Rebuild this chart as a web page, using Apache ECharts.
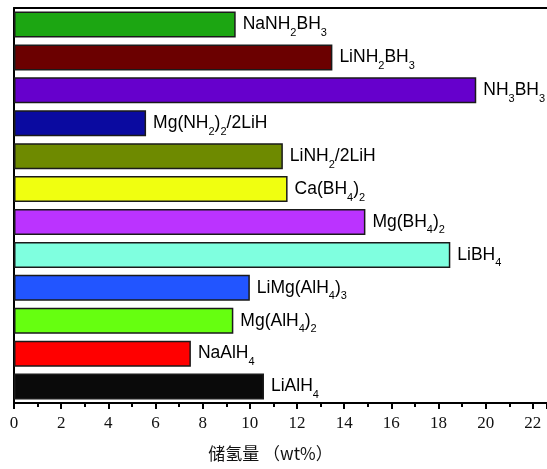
<!DOCTYPE html>
<html>
<head>
<meta charset="utf-8">
<script src="https://cdn.jsdelivr.net/npm/echarts@6/dist/echarts.min.js"></script>
<style>html,body{margin:0;padding:0;background:#fff;}#c{width:547px;height:469px;}</style>
</head>
<body>
<div id="c"></div>
<script>
// Categories from bottom to top
var categories = ["LiAlH4", "NaAlH4", "Mg(AlH4)2", "LiMg(AlH4)3", "LiBH4", "Mg(BH4)2", "Ca(BH4)2", "LiNH2/2LiH", "Mg(NH2)2/2LiH", "NH3BH3", "LiNH2BH3", "NaNH2BH3"];
var values = [10.6, 7.5, 9.3, 10.0, 18.5, 14.9, 11.6, 11.4, 5.6, 19.6, 13.5, 9.4];
var colors = ["#0a0a0a", "#ff0000", "#66ff10", "#2255ff", "#7fffdf", "#bb33ff", "#f0ff10", "#6e8a00", "#0a0aa0", "#6600cc", "#6b0000", "#1ca612"];
var xTicks = [0, 2, 4, 6, 8, 10, 12, 14, 16, 18, 20, 22];
var axisName = "储氢量 （wt%）";

function toRich(name) {
  var out = "";
  var buf = "";
  for (var i = 0; i < name.length; i++) {
    var ch = name[i];
    var prev = i > 0 ? name[i - 1] : "";
    if (/[0-9]/.test(ch) && /[A-Za-z\)]/.test(prev)) {
      if (buf) { out += "{m|" + buf + "}"; buf = ""; }
      out += "{s|" + ch + "}";
    } else {
      buf += ch;
    }
  }
  if (buf) out += "{m|" + buf + "}";
  return out;
}

var chart = echarts.init(document.getElementById('c'));
var data = values.map(function (v, i) {
  return { value: v, itemStyle: { color: colors[i] } };
});

chart.setOption({
  animation: false,
  backgroundColor: '#fff',
  grid: { left: 14, top: 8, right: 0, bottom: 66, containLabel: false },
  xAxis: [{
    type: 'value',
    min: 0,
    max: 22.6,
    interval: 2,
    position: 'bottom',
    axisLine: { show: true, lineStyle: { color: '#000', width: 2 } },
    axisTick: { show: true, inside: false, length: 6, lineStyle: { color: '#000', width: 2 } },
    minorTick: { show: true, splitNumber: 2, length: 4, lineStyle: { color: '#000', width: 2 } },
    splitLine: { show: false },
    axisLabel: {
      show: true, margin: 12, color: '#111',
      fontFamily: 'Liberation Serif', fontSize: 17,
      showMaxLabel: false,
      formatter: function (v) { return xTicks.indexOf(v) >= 0 ? String(v) : ''; }
    },
    name: axisName,
    nameLocation: 'middle',
    nameGap: 42,
    nameTextStyle: { fontFamily: 'Noto Sans CJK SC', fontSize: 17, color: '#111', padding: [0, 20, 0, 0] }
  }, {
    type: 'value',
    min: 0,
    max: 22.6,
    position: 'top',
    axisLine: { show: true, lineStyle: { color: '#000', width: 2 } },
    axisTick: { show: false },
    axisLabel: { show: false },
    splitLine: { show: false }
  }],
  yAxis: {
    type: 'category',
    data: categories,
    axisLine: { show: true, lineStyle: { color: '#000', width: 2 } },
    axisTick: { show: false },
    axisLabel: { show: false }
  },
  series: [{
    type: 'bar',
    data: data,
    barWidth: 26,
    itemStyle: { borderColor: '#1a1a1a', borderWidth: 1.5 },
    label: {
      show: true,
      position: 'right',
      distance: 7,
      formatter: function (p) { return toRich(p.name); },
      rich: {
        m: { fontFamily: 'Liberation Sans', fontSize: 17.5, color: '#000', lineHeight: 28, verticalAlign: 'middle' },
        s: { fontFamily: 'Liberation Sans', fontSize: 11, color: '#000', lineHeight: 28, verticalAlign: 'bottom' }
      }
    }
  }]
});
</script>
</body>
</html>
